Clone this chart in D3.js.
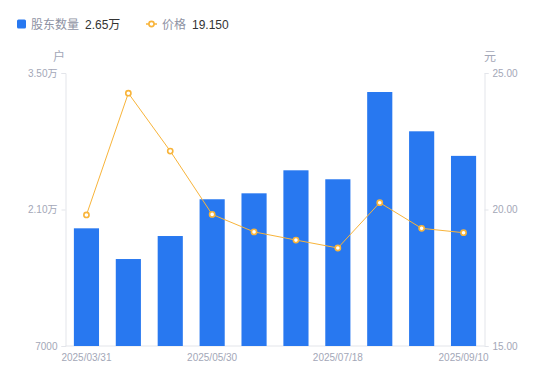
<!DOCTYPE html>
<html><head><meta charset="utf-8">
<script src="https://cdn.jsdelivr.net/npm/d3@7/dist/d3.min.js"></script>
<style>body{margin:0;background:#fff;font-family:"Liberation Sans","Noto Sans CJK SC",sans-serif;}</style>
</head><body><svg id="c" width="550" height="381"></svg>
<script>
const dates = ["2025/03/31","2025/04/18","2025/04/30","2025/05/30","2025/06/10","2025/06/30","2025/07/18","2025/07/31","2025/08/20","2025/09/10"];
const holders = [19070, 15920, 18280, 22050, 22660, 25020, 24100, 33050, 29020, 26500];
const prices = [19.80, 24.26, 22.14, 19.82, 19.18, 18.88, 18.59, 20.25, 19.31, 19.15];
const leftTicks = [7000, 21000, 35000];
const rightTicks = [15, 20, 25];
const shownDates = ["2025/03/31","2025/05/30","2025/07/18","2025/09/10"];

const FONT = "'Liberation Sans','Noto Sans CJK SC',sans-serif";
const svg = d3.select("#c").attr("font-family", FONT);
const L = 65.5, R = 484.5, T = 73, B = 346;
const x = d3.scaleBand().domain(dates).range([L, R]).paddingInner(0.4).paddingOuter(0.2);
const yL = d3.scaleLinear().domain([7000, 35000]).range([B, T]);
const yR = d3.scaleLinear().domain([15, 25]).range([B, T]);
const axisColor = "#e3e5ea", textColor = "#a3a7b7";

// axes
const gl = svg.append("g").attr("transform", `translate(${L},0)`)
  .call(d3.axisLeft(yL).tickValues(leftTicks).tickSize(4).tickPadding(4)
    .tickFormat(d => d >= 10000 ? (d/10000).toFixed(2) + "万" : String(d)));
const gr = svg.append("g").attr("transform", `translate(${R},0)`)
  .call(d3.axisRight(yR).tickValues(rightTicks).tickSize(4).tickPadding(4)
    .tickFormat(d => d.toFixed(2)));
const gb = svg.append("g").attr("transform", `translate(0,${B})`)
  .call(d3.axisBottom(x).tickValues(shownDates).tickSize(0).tickPadding(8));
[gl, gr, gb].forEach(g => {
  g.attr("font-family", FONT);
  g.selectAll("path.domain").attr("stroke", axisColor);
  g.selectAll("line").attr("stroke", axisColor);
  g.selectAll("text").attr("fill", textColor).attr("font-size", 10);
});
gb.select("path.domain").attr("d", `M${L},0H${R}`);

// axis titles
svg.append("text").attr("x", 59).attr("y", 61).attr("text-anchor", "middle")
  .attr("fill", textColor).attr("font-size", 12).text("户");
svg.append("text").attr("x", 490).attr("y", 61).attr("text-anchor", "middle")
  .attr("fill", textColor).attr("font-size", 12).text("元");

// bars
svg.append("g").selectAll("rect").data(holders).join("rect")
  .attr("x", (d, i) => x(dates[i]))
  .attr("width", x.bandwidth())
  .attr("y", d => yL(d))
  .attr("height", d => B - yL(d))
  .attr("fill", "#2878f0");

// line
const orange = "#f8b43a";
svg.append("path").datum(prices)
  .attr("d", d3.line().x((d, i) => x(dates[i]) + x.bandwidth()/2).y(d => yR(d)))
  .attr("fill", "none").attr("stroke", orange).attr("stroke-width", 1);
svg.append("g").selectAll("circle").data(prices).join("circle")
  .attr("cx", (d, i) => x(dates[i]) + x.bandwidth()/2)
  .attr("cy", d => yR(d)).attr("r", 2.6)
  .attr("fill", "#fff").attr("stroke", orange).attr("stroke-width", 1.6);

// legend
const lg = svg.append("g").attr("font-size", 12);
lg.append("rect").attr("x", 17).attr("y", 19.5).attr("width", 9).attr("height", 9).attr("rx", 1.5).attr("fill", "#2878f0");
lg.append("text").attr("x", 31).attr("y", 28.5).attr("fill", "#8e92a3").text("股东数量");
lg.append("text").attr("x", 85).attr("y", 28.5).attr("fill", "#333").text((holders[holders.length-1]/10000).toFixed(2) + "万");
lg.append("line").attr("x1", 146).attr("x2", 157).attr("y1", 24).attr("y2", 24).attr("stroke", orange).attr("stroke-width", 1.5);
lg.append("circle").attr("cx", 151.5).attr("cy", 24).attr("r", 2.6).attr("fill", "#fff").attr("stroke", orange).attr("stroke-width", 1.6);
lg.append("text").attr("x", 162).attr("y", 28.5).attr("fill", "#8e92a3").text("价格");
lg.append("text").attr("x", 192).attr("y", 28.5).attr("fill", "#333").text(prices[prices.length-1].toFixed(3));
</script></body></html>
